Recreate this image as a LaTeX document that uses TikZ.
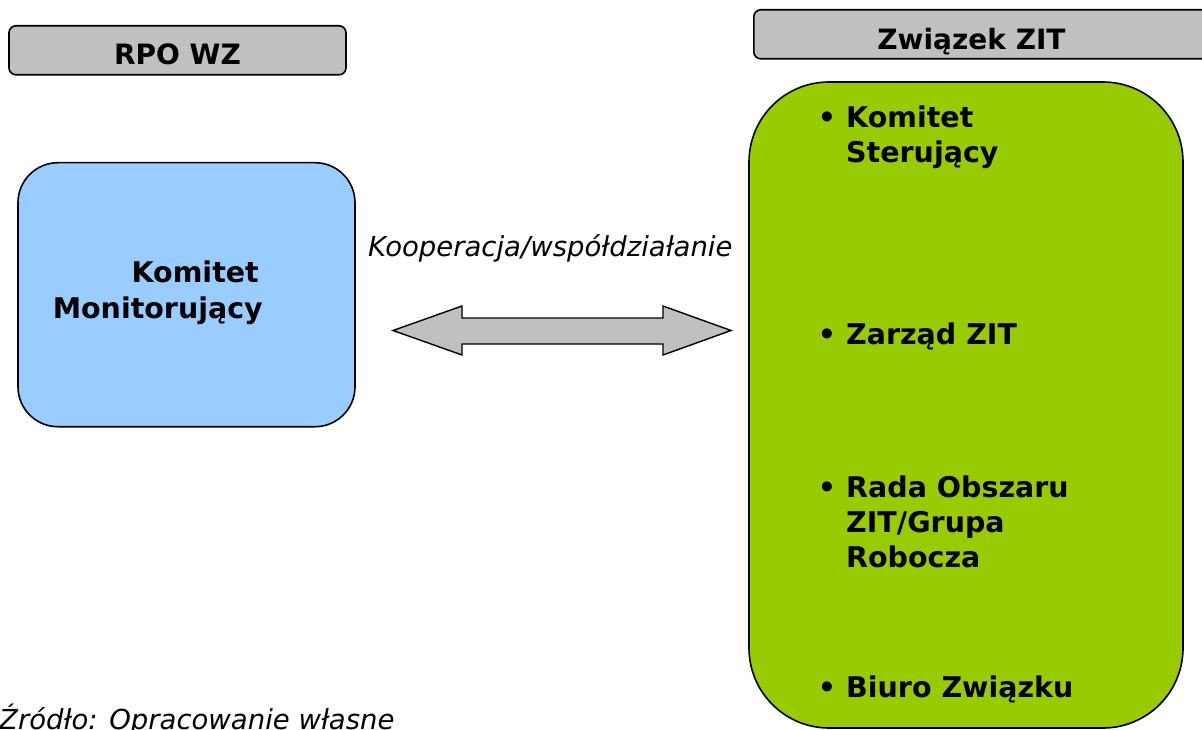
\documentclass[tikz,border=0pt]{standalone}
\usepackage{fontspec}
\setmainfont{DejaVu Sans}

\definecolor{headgray}{HTML}{C0C0C0}
\definecolor{kmblue}{HTML}{99CCFF}
\definecolor{zitgreen}{HTML}{99CC00}

\newcommand{\zitbullet}{\llap{\textbullet\hspace{10pt}}}

\begin{document}
\begin{tikzpicture}
		[
			x=1pt, y=-1pt,
			header/.style={rectangle, rounded corners=7pt, draw, line width=1.6pt, fill=headgray, minimum height=49pt, inner sep=0pt},
			headtext/.style={anchor=base, inner sep=0pt, font=\fontsize{28}{34}\selectfont\bfseries},
			box/.style={rectangle, draw, line width=1.6pt, inner sep=0pt},
			boxtext/.style={inner sep=0pt, font=\fontsize{28.5}{35}\selectfont\bfseries},
			note/.style={anchor=base west, inner sep=0pt, font=\fontsize{27.5}{33}\selectfont\itshape},
		]

		\useasboundingbox (0,0) rectangle (1202,730);
		\clip (0,0) rectangle (1202,730);

		% Headers
		\node[header, minimum width=337pt] (rpo) at (177.5,50.3) {};
		\node[header, minimum width=480pt, anchor=west] (zit) at (753,34.3) {};
		\node[headtext] (rpotext) at (177.5,65) {RPO WZ};
		\node[headtext] (zittext) at (971.5,49.5) {Związek ZIT};

		% Komitet Monitorujacy
		\node[box, rounded corners=40pt, fill=kmblue, minimum width=337pt, minimum height=264pt] (km) at (186.5,294.7) {};
		\foreach \name/\x/\y/\txt in
		{
			km1/259/282/Komitet,
			km2/263/318/Monitorujący
		}
			\node[boxtext, anchor=base east] (\name) at (\x,\y) {\txt};

		\node[note] (coop) at (368,256.5) {Kooperacja/współdziałanie};

		% Arrow
		\coordinate (aleft) at (393,330.5);
		\coordinate (aright) at (731,330.5);
		\draw[line width=1.4pt, fill=headgray]
			(aleft) -- (462,306) -- (462,318) -- (663,318) -- (663,306) -- (aright)
			-- (663,355) -- (663,344) -- (462,344) -- (462,355) -- cycle;

		% Zwiazek ZIT
		\node[box, rounded corners=80pt, fill=zitgreen, minimum width=434pt, minimum height=646pt] (zitbox) at (966,405) {};
		\foreach \name/\y/\txt in
		{
			it1/128/\zitbullet Komitet,
			it1b/163/Sterujący,
			it2/344/\zitbullet Zarząd ZIT,
			it3/497/\zitbullet Rada Obszaru,
			it3b/532/{ZIT/Grupa},
			it3c/567/Robocza,
			it4/697/\zitbullet Biuro Związku
		}
			\node[boxtext, anchor=base west] (\name) at (846,\y) {\txt};

		% Source
		\node[note] (src) at (-1,729.5) {Źródło: Opracowanie własne};

		\end{tikzpicture}
\end{document}
